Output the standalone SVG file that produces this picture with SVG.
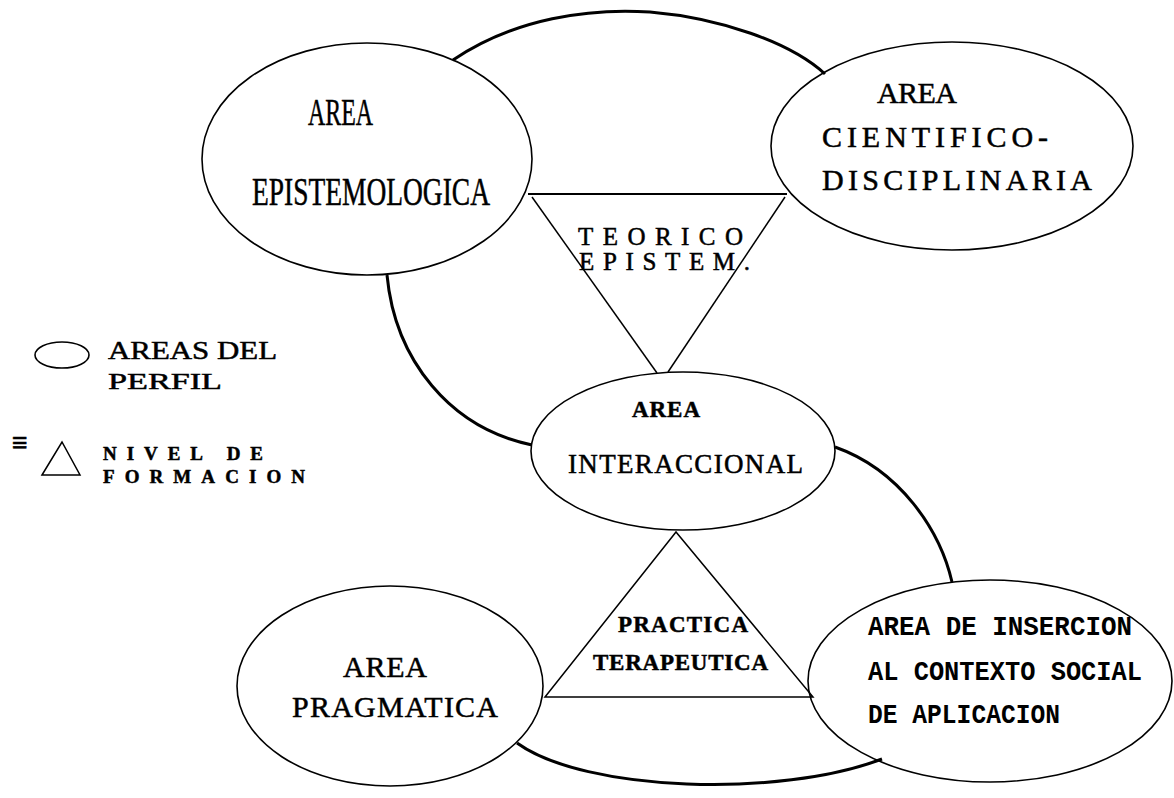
<svg xmlns="http://www.w3.org/2000/svg" width="1174" height="798" viewBox="0 0 1174 798">
<style>
.node{fill:none;stroke:#000;stroke-width:1.6}
.tri{fill:none;stroke:#000;stroke-width:1.5}
.arc{fill:none;stroke:#000;stroke-width:3}
.serif{font-family:"Liberation Serif","Times New Roman",serif;fill:#000;stroke:#000;stroke-width:0.5}
.mono{font-family:"Liberation Mono","Courier New",monospace;fill:#000;font-weight:bold}
</style>
<rect width="1174" height="798" fill="#fff"/>
<g id="connectors">
<path class="arc" d="M453,60 C515,18 590,8 650,12 C720,18 790,42 825,74"/>
<path class="arc" d="M387,275 C395,360 450,428 532,445"/>
<path class="arc" d="M835,447 C900,470 940,530 952,582"/>
<path class="arc" d="M517,743 C585,792 780,798 882,759"/>
</g>
<g id="triangle-teorico">
<path class="tri" d="M528,194 L787,194" style="stroke-width:2"/>
<path class="tri" d="M532,197 L657,373"/>
<path class="tri" d="M785,197 L668,372"/>
<text class="serif" x="578" y="245" font-size="25" textLength="165">TEORICO</text>
<text class="serif" x="579" y="270" font-size="25" textLength="171">EPISTEM.</text>
</g>
<g id="triangle-practica">
<path class="tri" d="M545,697 L676,532 L813,697 Z"/>
<text class="serif" x="618" y="632" font-size="23" font-weight="bold" textLength="130">PRACTICA</text>
<text class="serif" x="593" y="670" font-size="23" font-weight="bold" textLength="175">TERAPEUTICA</text>
</g>
<g id="area-epistemologica">
<ellipse class="node" cx="367" cy="159" rx="165" ry="116"/>
<text class="serif" x="308" y="125" font-size="38" textLength="65" lengthAdjust="spacingAndGlyphs">AREA</text>
<text class="serif" x="252" y="205" font-size="40" textLength="238" lengthAdjust="spacingAndGlyphs">EPISTEMOLOGICA</text>
</g>
<g id="area-cientifico">
<ellipse class="node" cx="952" cy="146" rx="181" ry="104"/>
<text class="serif" x="877" y="103" font-size="30" textLength="80">AREA</text>
<text class="serif" x="822" y="147" font-size="30" textLength="226">CIENTIFICO-</text>
<text class="serif" x="822" y="190" font-size="30" textLength="270">DISCIPLINARIA</text>
</g>
<g id="area-interaccional">
<ellipse class="node" cx="683" cy="451" rx="152" ry="79"/>
<text class="serif" x="632" y="417" font-size="23" font-weight="bold" textLength="68">AREA</text>
<text class="serif" x="568" y="473" font-size="27" textLength="235">INTERACCIONAL</text>
</g>
<g id="area-pragmatica">
<ellipse class="node" cx="390" cy="686" rx="153" ry="100"/>
<text class="serif" x="343" y="677" font-size="30" textLength="84">AREA</text>
<text class="serif" x="292" y="717" font-size="30" textLength="206">PRAGMATICA</text>
</g>
<g id="area-insercion">
<ellipse class="node" cx="990" cy="681" rx="182" ry="101"/>
<text class="mono" x="868" y="635" font-size="27" textLength="264" lengthAdjust="spacingAndGlyphs">AREA DE INSERCION</text>
<text class="mono" x="868" y="680" font-size="27" textLength="274" lengthAdjust="spacingAndGlyphs">AL CONTEXTO SOCIAL</text>
<text class="mono" x="868" y="723" font-size="27" textLength="192" lengthAdjust="spacingAndGlyphs">DE APLICACION</text>
</g>
<g id="legend">
<ellipse class="node" cx="62" cy="355" rx="27" ry="13"/>
<text class="serif" x="108" y="359" font-size="26" textLength="169" lengthAdjust="spacingAndGlyphs">AREAS DEL</text>
<text class="serif" x="108" y="389" font-size="24" textLength="114" lengthAdjust="spacingAndGlyphs">PERFIL</text>
<text class="serif" x="12" y="452" font-size="28" font-weight="bold">≡</text>
<path class="tri" d="M42,475 L62,442 L80,475 Z"/>
<text class="serif" x="103" y="460" font-size="19" font-weight="bold" textLength="160">NIVEL DE</text>
<text class="serif" x="103" y="483" font-size="19" font-weight="bold" textLength="202">FORMACION</text>
</g>
</svg>
